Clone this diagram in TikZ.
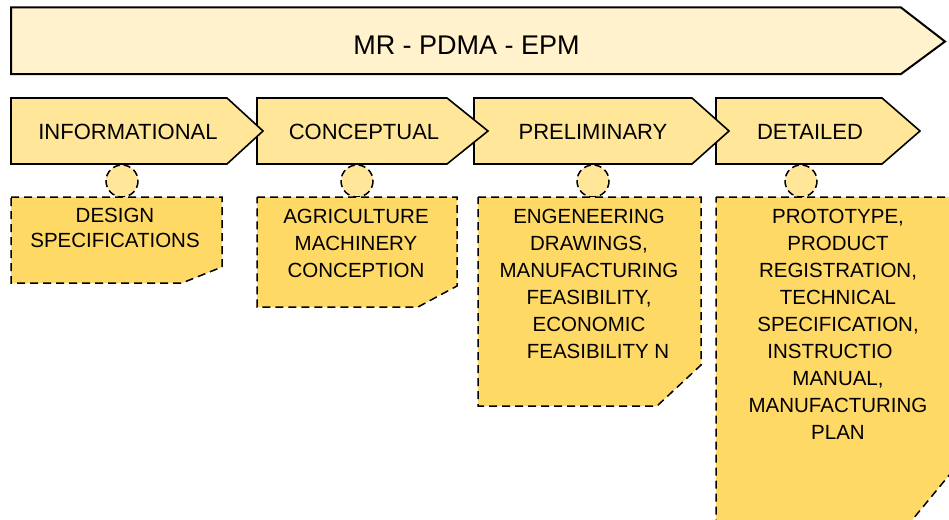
\documentclass[tikz,border=0pt]{standalone}
\usepackage{fontspec}
\setmainfont{Liberation Sans}

\definecolor{bannerfill}{HTML}{FFF2CC}
\definecolor{phasefill}{HTML}{FFE699}
\definecolor{outfill}{HTML}{FFD966}

\begin{document}
\begin{tikzpicture}[x=1pt, y=-1pt, line join=miter,
    phase/.style={draw=black, line width=1.6pt, fill=phasefill},
    outbox/.style={draw=black, line width=1.5pt, dash pattern=on 8pt off 5pt, fill=outfill},
    knob/.style={draw=black, line width=1.5pt, dash pattern=on 7pt off 4pt, fill=phasefill},
    phasetext/.style={anchor=center, inner sep=0pt, font=\fontsize{22}{26}\selectfont},
    outtext/.style={anchor=north, inner sep=0pt, align=center, font=\fontsize{20.5}{27}\selectfont}]

  % canvas
  \useasboundingbox (0,0) rectangle (949,519);

  %% ==== banner ====
  \draw[line width=2pt, fill=bannerfill]
    (11,7.5) -- (901,7.5) -- (945,41.5) -- (901,74) -- (11,74) -- cycle;
  \node[anchor=center, inner sep=0pt, font=\fontsize{27}{32}\selectfont] (title) at (466.5,45.5) {MR - PDMA - EPM};

  %% ==== small circles under each phase ====
  \draw[knob] (122,181) circle (16);
  \draw[knob] (357,181) circle (16);
  \draw[knob] (593,181) circle (16);
  \draw[knob] (801,181) circle (16);

  %% ==== output boxes (corner cut bottom right) ====
  \draw[outbox] (11,197) -- (222,197) -- (222,267) -- (182,283) -- (11,283) -- cycle;
  \draw[outbox] (257,197) -- (457,197) -- (457,286) -- (418,307) -- (257,307) -- cycle;
  \draw[outbox] (478,197) -- (701,197) -- (701,365) -- (657,406) -- (478,406) -- cycle;
  % last box runs off the canvas
  \begin{scope}
    \clip (0,0) rectangle (949,519);
    \draw[outbox] (716,197) -- (960,197) -- (960,462) -- (908,525) -- (716,525) -- cycle;
  \end{scope}

  %% ==== phase chevrons (right to left, so each tip lies on the next) ====
  \draw[phase] (716,98) -- (882,98) -- (920,131) -- (882,164) -- (716,164) -- cycle;
  \draw[phase] (474,98) -- (692,98) -- (729,131) -- (692,164) -- (474,164) -- cycle;
  \draw[phase] (257,98) -- (447,98) -- (488,131) -- (447,164) -- (257,164) -- cycle;
  \draw[phase] (11,98) -- (227,98) -- (263,131) -- (227,164) -- (11,164) -- cycle;

  \node[phasetext] (informational) at (128,131.5) {INFORMATIONAL};
  \node[phasetext] (conceptual) at (364,131.5) {CONCEPTUAL};
  \node[phasetext] (preliminary) at (593,131.5) {PRELIMINARY};
  \node[phasetext] (detailed) at (810,131.5) {DETAILED};

  %% ==== box texts ====
  \node[outtext, font=\fontsize{20.5}{24.5}\selectfont] (specs) at (115,208) {DESIGN\\SPECIFICATIONS};
  \node[outtext] (conception) at (356,208.5) {AGRICULTURE\\MACHINERY\\CONCEPTION};
  \node[outtext] (drawings) at (589,208.5) {ENGENEERING\\DRAWINGS,\\MANUFACTURING\\FEASIBILITY,\\ECONOMIC\\\hspace*{18pt}FEASIBILITY N};
  \node[outtext] (prototype) at (838,208.5) {PROTOTYPE,\\PRODUCT\\REGISTRATION,\\TECHNICAL\\SPECIFICATION,\\INSTRUCTIO\kern16pt\\MANUAL,\\MANUFACTURING\\PLAN};
\end{tikzpicture}
\end{document}
